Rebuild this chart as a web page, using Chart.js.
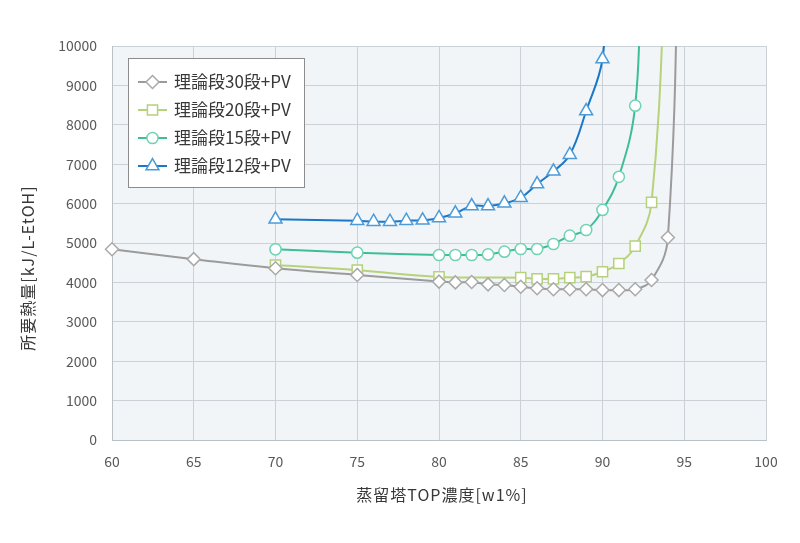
<!DOCTYPE html>
<html>
<head>
<meta charset="utf-8">
<script src="https://cdn.jsdelivr.net/npm/chart.js@4"></script>
<style>
  html, body { margin: 0; padding: 0; background: #ffffff; }
  #wrap { width: 800px; height: 543px; }
</style>
</head>
<body>
<div id="wrap"><canvas id="chart" width="800" height="543"></canvas></div>
<script>
// distillation column: heat demand vs top concentration

const seriesNames = ['理論段30段+PV', '理論段20段+PV', '理論段15段+PV', '理論段12段+PV'];
const xTitle = '蒸留塔TOP濃度[w1%]';
const yTitle = '所要熱量[kJ/L-EtOH]';

// last entry of each series sits above 10000 (clipped, only the rising line shows)
const x30 = [60, 65, 70, 75, 80, 81, 82, 83, 84, 85, 86, 87, 88, 89, 90, 91, 92, 93, 94, 94.75];
const y30 = [4840, 4590, 4360, 4190, 4020, 4000, 4010, 3950, 3935, 3890, 3850, 3825, 3825, 3825, 3805, 3805, 3825, 4060, 5140, 15000];

const x20 = [70, 75, 80, 85, 86, 87, 88, 89, 90, 91, 92, 93, 93.95];
const y20 = [4440, 4310, 4140, 4120, 4090, 4090, 4120, 4145, 4270, 4480, 4920, 6030, 13000];

const x15 = [70, 75, 80, 81, 82, 83, 84, 85, 86, 87, 88, 89, 90, 91, 92, 92.35];
const y15 = [4840, 4755, 4695, 4695, 4695, 4710, 4780, 4848, 4848, 4975, 5185, 5330, 5840, 6680, 8485, 12000];

const x12 = [70, 75, 76, 77, 78, 79, 80, 81, 82, 83, 84, 85, 86, 87, 88, 89, 90, 90.15];
const y12 = [5600, 5566, 5541, 5541, 5566, 5575, 5635, 5754, 5939, 5939, 6008, 6150, 6497, 6820, 7240, 8350, 9670, 11500];

const xTicks = [60, 65, 70, 75, 80, 85, 90, 95, 100];
const yTicks = [0, 1000, 2000, 3000, 4000, 5000, 6000, 7000, 8000, 9000, 10000];

const FONT = '"Noto Sans CJK JP", "Noto Sans", sans-serif';

const pairs = (xs, ys) => xs.map((x, i) => ({ x, y: ys[i] }));

const styles = [
  { line: '#9b9b9b', mark: '#a9a9a9', shape: 'rectRot',  r: 6.5 },
  { line: '#b7d27a', mark: '#b5d17c', shape: 'rect',     r: 7.2 },
  { line: '#3dbd98', mark: '#6fd3b3', shape: 'circle',   r: 5.6 },
  { line: '#1a77c9', mark: '#4b9bd9', shape: 'triangle', r: 7.5 }
];

const dataSets = [pairs(x30, y30), pairs(x20, y20), pairs(x15, y15), pairs(x12, y12)];

// plot area fill
const plotBg = {
  id: 'plotBg',
  beforeDraw(chart) {
    const { ctx, chartArea: a } = chart;
    ctx.save();
    ctx.fillStyle = '#f2f5f8';
    ctx.fillRect(a.left, a.top, a.right - a.left, a.bottom - a.top);
    ctx.restore();
  }
};

// axis titles (the y one sits a bit below the middle, like the original)
const axisTitles = {
  id: 'axisTitles',
  afterDraw(chart) {
    const ctx = chart.ctx;
    const a = chart.chartArea;
    ctx.save();
    ctx.fillStyle = '#383838';
    ctx.font = '16px ' + FONT;
    ctx.letterSpacing = '1px';
    ctx.textAlign = 'center';
    ctx.textBaseline = 'middle';
    ctx.fillText(xTitle, (a.left + a.right) / 2 + 3, 495);
    ctx.translate(28, 268);
    ctx.rotate(-Math.PI / 2);
    ctx.fillText(yTitle, 0, 0);
    ctx.restore();
  }
};

// boxed legend inside the plot, top-left
const boxLegend = {
  id: 'boxLegend',
  afterDraw(chart) {
    const ctx = chart.ctx;
    const bx = 128.5, by = 58.5, bw = 176, bh = 129;
    ctx.save();
    ctx.fillStyle = '#ffffff';
    ctx.strokeStyle = '#8c8c8c';
    ctx.lineWidth = 1;
    ctx.fillRect(bx, by, bw, bh);
    ctx.strokeRect(bx, by, bw, bh);
    ctx.font = '17px ' + FONT;
    ctx.textBaseline = 'middle';
    seriesNames.forEach((name, i) => {
      const st = styles[i];
      const cy = 82 + i * 28;
      ctx.strokeStyle = st.line;
      ctx.lineWidth = 2;
      ctx.beginPath();
      ctx.moveTo(138, cy);
      ctx.lineTo(167, cy);
      ctx.stroke();
      ctx.fillStyle = '#ffffff';
      ctx.strokeStyle = st.mark;
      ctx.lineWidth = 1.5;
      Chart.helpers.drawPoint(ctx, { pointStyle: st.shape, radius: st.r, rotation: 0, borderWidth: 1.5 }, 152.5, cy);
      ctx.fillStyle = '#383838';
      ctx.fillText(name, 174, cy);
    });
    ctx.restore();
  }
};

new Chart(document.getElementById('chart'), {
  type: 'line',
  data: {
    datasets: dataSets.map((d, i) => ({
      label: seriesNames[i],
      data: d,
      borderColor: styles[i].line,
      borderWidth: 2,
      backgroundColor: '#ffffff',
      pointBackgroundColor: '#ffffff',
      pointBorderColor: styles[i].mark,
      pointBorderWidth: 1.5,
      pointStyle: styles[i].shape,
      pointRadius: styles[i].r,
      tension: 0.4,
      clip: { left: 10, top: 0, right: 10, bottom: 10 },
      fill: false
    }))
  },
  options: {
    responsive: false,
    animation: false,
    layout: { padding: { left: 0, right: 34, top: 46, bottom: 0 } },
    plugins: {
      legend: { display: false },
      tooltip: { enabled: false }
    },
    scales: {
      x: {
        type: 'linear',
        min: 60, max: 100,
        afterBuildTicks: (s) => { s.ticks = xTicks.map(v => ({ value: v })); },
        afterFit: (s) => { s.height = 103; },
        ticks: { color: '#595959', font: { family: FONT, size: 14 }, padding: 13, maxRotation: 0,
                 callback: (v) => String(v) },
        grid: { color: '#cbd1d6', lineWidth: 1, drawTicks: false },
        border: { color: '#b9c0c6', width: 1 }
      },
      y: {
        min: 0, max: 10000,
        afterBuildTicks: (s) => { s.ticks = yTicks.map(v => ({ value: v })); },
        afterFit: (s) => { s.width = 112; },
        ticks: { color: '#595959', font: { family: FONT, size: 14 }, padding: 15,
                 callback: (v) => String(v) },
        grid: { color: '#cbd1d6', lineWidth: 1, drawTicks: false },
        border: { color: '#b9c0c6', width: 1 }
      }
    }
  },
  plugins: [plotBg, axisTitles, boxLegend]
});
</script>
</body>
</html>
